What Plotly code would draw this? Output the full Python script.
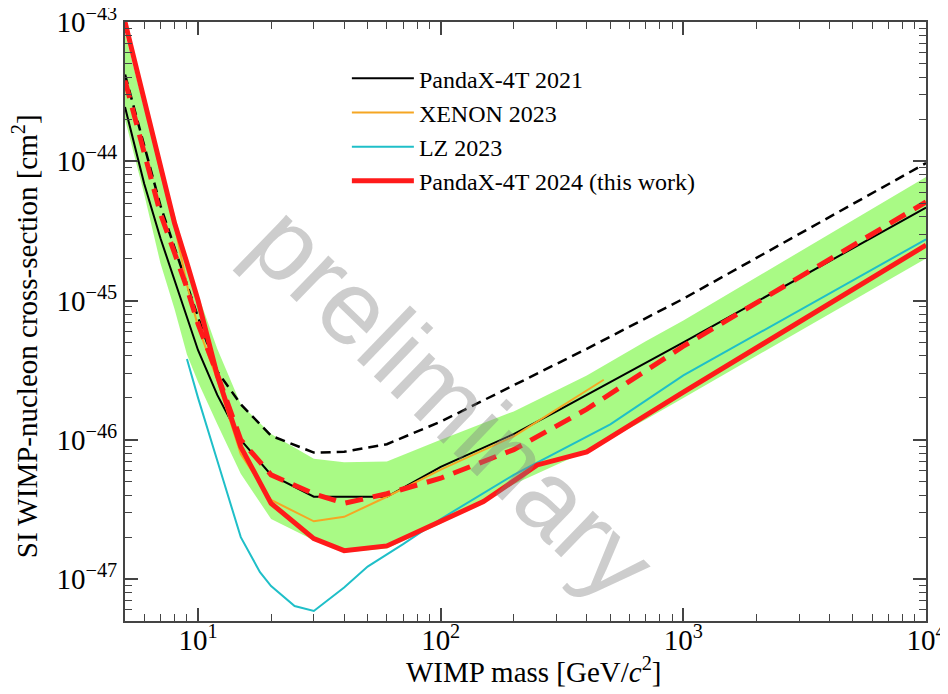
import plotly.graph_objects as go

# ---------------- data ----------------
# PandaX-4T 2024 (this work) – 90% C.L. upper limit
m_p24 = [5, 6, 7, 8, 9, 10, 12, 15, 20, 30, 40, 60, 100, 150, 250, 400, 1000, 10000]
s_p24 = [1.0e-43, 2.75e-44, 8.7e-45, 3.6e-45, 1.86e-45, 1.0e-45, 2.9e-46, 8.9e-47, 3.5e-47,
         1.95e-47, 1.6e-47, 1.73e-47, 2.6e-47, 3.6e-47, 6.6e-47, 8.2e-47, 2.2e-46, 2.5e-45]

# PandaX-4T 2024 median sensitivity (red dashed)
m_p24_sens = [5, 6, 7, 8, 9, 10, 12, 15, 20, 30, 40, 60, 100, 200, 400, 1000, 10000]
s_p24_sens = [3.8e-44, 1.17e-44, 4.2e-45, 2.2e-45, 1.23e-45, 6.8e-46, 2.96e-46, 1.0e-46, 5.6e-47,
              4.1e-47, 3.5e-47, 4.1e-47, 5.3e-47, 8.5e-47, 1.66e-46, 4.7e-46, 5.1e-45]

# +-1 sigma sensitivity band (green)
m_band = [5, 6, 7, 8, 9, 10, 12, 15, 20, 30, 40, 60, 100, 200, 400, 700, 1000, 10000]
band_hi = [8.3e-44, 2.4e-44, 9.0e-45, 4.2e-45, 1.9e-45, 1.1e-45, 4.5e-46, 1.8e-46, 1.1e-46,
           7.3e-47, 6.9e-47, 7.0e-47, 1.0e-46, 1.6e-46, 2.9e-46, 5.1e-46, 7.2e-46, 7.7e-45]
band_lo = [2.0e-44, 5.8e-45, 1.85e-45, 8.7e-46, 4.1e-46, 2.6e-46, 1.3e-46, 5.7e-47, 2.7e-47,
           1.9e-47, 1.55e-47, 1.66e-47, 2.5e-47, 4.8e-47, 8.3e-47, 1.4e-46, 2.0e-46, 2.0e-45]

# PandaX-4T 2021 limit (black solid)
m_p21 = [5, 6, 7, 8, 9, 10, 12, 15, 20, 30, 40, 60, 100, 200, 300, 1000, 10000]
s_p21 = [2.45e-44, 6.9e-45, 2.8e-45, 1.4e-45, 7.6e-46, 4.4e-46, 2.1e-46, 1.0e-46, 5.6e-47,
         3.9e-47, 3.9e-47, 3.9e-47, 6.4e-47, 1.1e-46, 1.6e-46, 5.0e-46, 4.65e-45]

# PandaX-4T 2021 sensitivity (black dashed)
m_p21_sens = [5, 6, 7, 8, 10, 12, 15, 20, 30, 40, 60, 100, 200, 400, 1000, 10000]
s_p21_sens = [4.2e-44, 1.3e-44, 4.8e-45, 2.4e-45, 7.6e-46, 3.1e-46, 1.8e-46, 1.07e-46, 8.1e-47,
              8.2e-47, 9.3e-47, 1.35e-46, 2.45e-46, 4.5e-46, 1.03e-45, 9.7e-45]

# XENON 2023 (orange)
m_xe = [6, 7, 8, 9, 10, 12, 15, 20, 30, 40, 60, 100, 200, 470]
s_xe = [2.9e-44, 8.4e-45, 3.5e-45, 1.3e-45, 6.5e-46, 2.7e-46, 7.9e-47, 3.7e-47, 2.6e-47,
        2.8e-47, 3.9e-47, 6.1e-47, 1.06e-46, 2.7e-46]

# LZ 2023 (cyan)
m_lz = [9, 10, 12, 15, 18, 20, 25, 30, 40, 50, 70, 100, 200, 500, 1000, 10000]
s_lz = [3.8e-46, 2.0e-46, 7.1e-47, 2.0e-47, 1.12e-47, 8.9e-48, 6.4e-48, 5.9e-48, 8.7e-48,
        1.23e-47, 1.78e-47, 2.7e-47, 5.6e-47, 1.29e-46, 2.9e-46, 2.75e-45]

x_ticks = [10, 100, 1000, 10000]
x_ticktext = ["10<sup>1</sup>", "10<sup>2</sup>", "10<sup>3</sup>", "10<sup>4</sup>"]
y_ticks = [1e-47, 1e-46, 1e-45, 1e-44, 1e-43]
y_ticktext = ["10<sup>\u221247</sup>", "10<sup>\u221246</sup>", "10<sup>\u221245</sup>",
              "10<sup>\u221244</sup>", "10<sup>\u221243</sup>"]

x_minor = [v * 10 ** k for k in range(0, 4) for v in range(2, 10) if v * 10 ** k >= 5]
y_minor = [v * 10.0 ** k for k in range(-48, -43) for v in range(2, 10)]

x_title = "WIMP mass [GeV/<i>c</i><sup>2</sup>]"
y_title = "SI WIMP-nucleon cross-section [cm<sup>2</sup>]"

# ---------------- figure ----------------
fig = go.Figure()

fig.add_trace(go.Scatter(x=m_band, y=band_lo, mode="lines", line=dict(width=0),
                         showlegend=False, hoverinfo="skip"))
fig.add_trace(go.Scatter(x=m_band, y=band_hi, mode="lines", line=dict(width=0),
                         fill="tonexty", fillcolor="rgba(160,250,120,0.9)",
                         showlegend=False, hoverinfo="skip"))

fig.add_trace(go.Scatter(x=m_p21_sens, y=s_p21_sens, mode="lines", showlegend=False,
                         line=dict(color="black", width=2.5, dash="10px,6px")))
fig.add_trace(go.Scatter(x=m_p21, y=s_p21, mode="lines", name="PandaX-4T 2021",
                         legendrank=1, legendgroup="a",
                         line=dict(color="black", width=2)))
fig.add_trace(go.Scatter(x=m_xe, y=s_xe, mode="lines", name="XENON 2023",
                         legendrank=2, legendgroup="b",
                         line=dict(color="#f5a623", width=2)))
fig.add_trace(go.Scatter(x=m_lz, y=s_lz, mode="lines", name="LZ 2023",
                         legendrank=3, legendgroup="c",
                         line=dict(color="#1fbfc8", width=2)))
fig.add_trace(go.Scatter(x=m_p24_sens, y=s_p24_sens, mode="lines", showlegend=False,
                         line=dict(color="#ff1a1a", width=5, dash="18px,10px")))
fig.add_trace(go.Scatter(x=m_p24, y=s_p24, mode="lines", name="PandaX-4T 2024 (this work)",
                         legendrank=4, legendgroup="d",
                         line=dict(color="#ff1a1a", width=5)))

axis_common = dict(
    type="log", showline=True, linecolor="#444", linewidth=2, mirror="allticks",
    ticks="inside", ticklen=13, tickwidth=1.5, tickcolor="#444",
    showgrid=False, zeroline=False, tickmode="array", automargin=False,
    ticklabeloverflow="allow",
    tickfont=dict(family="Liberation Serif", size=29, color="black"),
)

fig.update_xaxes(**axis_common, range=[0.69897, 4.0], tickvals=x_ticks, ticktext=x_ticktext,
                 ticklabelstandoff=-8,
                 minor=dict(tickmode="array", tickvals=x_minor, ticks="inside", ticklen=7,
                            tickwidth=1.2, tickcolor="#444"))
fig.update_yaxes(**axis_common, range=[-47.301, -43.0], tickvals=y_ticks, ticktext=y_ticktext,
                 minor=dict(tickmode="array", tickvals=y_minor, ticks="inside", ticklen=7,
                            tickwidth=1.2, tickcolor="#444"))

# axis titles
fig.add_annotation(text=x_title, xref="paper", yref="paper", x=0.51, y=-0.081,
                   xanchor="center", yanchor="middle", showarrow=False,
                   font=dict(family="Liberation Serif", size=29, color="black"))
fig.add_annotation(text=y_title, xref="paper", yref="paper", x=-0.124, y=0.475,
                   xanchor="center", yanchor="middle", showarrow=False, textangle=-90,
                   font=dict(family="Liberation Serif", size=29, color="black"))

# watermark
fig.add_annotation(text="preliminary", xref="paper", yref="paper", x=0.41, y=0.365,
                   showarrow=False, textangle=44,
                   font=dict(family="Liberation Sans", size=105, color="rgba(130,130,130,0.40)"))

# the page body adds an 8 px offset, so margins are compensated to put the
# plot frame at x 125..926, y 22..621 in the window
fig.update_layout(
    width=948, height=694,
    margin=dict(l=117, r=30, t=14, b=81),
    paper_bgcolor="white", plot_bgcolor="white",
    legend=dict(x=0.277, y=0.943, xanchor="left", yanchor="top", bgcolor="rgba(0,0,0,0)",
                font=dict(family="Liberation Serif", size=24, color="black"),
                itemwidth=62, tracegroupgap=10, traceorder="normal"),
)

fig.write_html("out.html")
